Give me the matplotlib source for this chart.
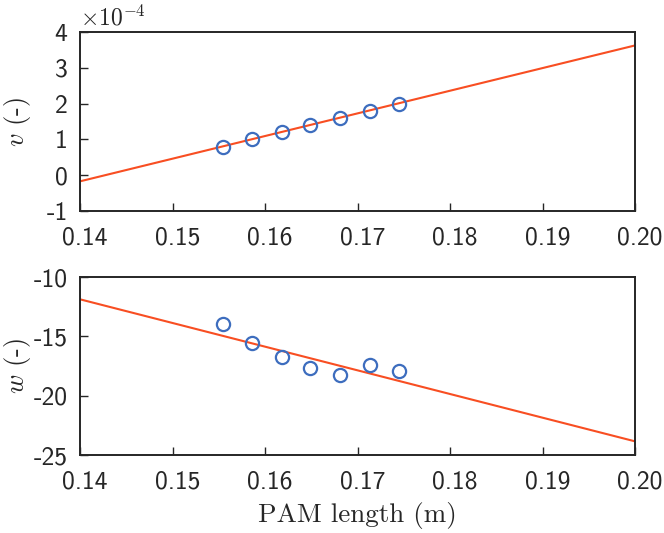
import matplotlib
matplotlib.use("Agg")
import matplotlib.pyplot as plt
import matplotlib.transforms as mtransforms
from matplotlib.ticker import FuncFormatter

# PAM length (m) of each measured point
pam_length = [0.1555, 0.1586, 0.1618, 0.1649, 0.1681, 0.1713, 0.1745]

# measured coefficients
v_meas = [0.80e-4, 1.00e-4, 1.20e-4, 1.40e-4, 1.60e-4, 1.80e-4, 2.00e-4]
w_meas = [-13.92, -15.58, -16.72, -17.65, -18.27, -17.45, -17.96]

# linear fits (end points over the plotted range)
fit_x = [0.14, 0.20]
v_fit = [-0.17e-4, 3.625e-4]
w_fit = [-11.88, -23.85]

x_ticks = [0.14, 0.15, 0.16, 0.17, 0.18, 0.19, 0.20]
v_ticks = [-1e-4, 0, 1e-4, 2e-4, 3e-4, 4e-4]
w_ticks = [-25, -20, -15, -10]

plt.rcParams["axes.unicode_minus"] = False
plt.rcParams["mathtext.fontset"] = "cm"

axis_col = "#262626"
line_col = "#F84E22"
mark_col = "#3D6DBE"
tick_font = "cmss10"

fig = plt.figure(figsize=(6.64, 5.33), dpi=100)
ax1 = fig.add_axes([0.1205, 0.604, 0.836, 0.336])
ax2 = fig.add_axes([0.1205, 0.1463, 0.836, 0.334])

# matlab puts the x tick labels a little to the right
shift = mtransforms.ScaledTranslation(5 / 100, 0, fig.dpi_scale_trans)

for ax in (ax1, ax2):
    for s in ax.spines.values():
        s.set_color(axis_col)
        s.set_linewidth(1.4)
    ax.tick_params(direction="in", length=6, width=1.0, colors=axis_col,
                   labelsize=18.5)
    ax.tick_params(axis="x", pad=11)
    ax.tick_params(axis="y", pad=9)
    ax.set_xlim(0.14, 0.20)
    ax.set_xticks(x_ticks)
    ax.xaxis.set_major_formatter(FuncFormatter(lambda x, p: "%.2f" % x))

# --- v ---
ax1.plot(fit_x, v_fit, color=line_col, lw=1.5, zorder=2)
ax1.plot(pam_length, v_meas, "o", mfc="none", mec=mark_col, ms=9.5, mew=1.6, zorder=3)
ax1.set_ylim(-1e-4, 4e-4)
ax1.set_yticks(v_ticks)
ax1.yaxis.set_major_formatter(FuncFormatter(lambda y, p: "%d" % round(y / 1e-4)))
ax1.text(0.0, 1.01, r"$\times\mathsf{10^{-4}}$", transform=ax1.transAxes,
         fontsize=17, color=axis_col, ha="left", va="bottom")
ax1.set_ylabel(r"$v$ (-)", fontsize=19, fontfamily="cmr10", color=axis_col, va="center")
ax1.yaxis.set_label_coords(-0.112, 0.5)

# --- w ---
ax2.plot(fit_x, w_fit, color=line_col, lw=1.5, zorder=2)
ax2.plot(pam_length, w_meas, "o", mfc="none", mec=mark_col, ms=9.5, mew=1.6, zorder=3)
ax2.set_ylim(-25, -10)
ax2.set_yticks(w_ticks)
ax2.yaxis.set_major_formatter(FuncFormatter(lambda y, p: "%d" % y))
ax2.set_ylabel(r"$w$ (-)", fontsize=19, fontfamily="cmr10", color=axis_col, va="center")
ax2.yaxis.set_label_coords(-0.112, 0.5)
ax2.set_xlabel("PAM length (m)", fontsize=19.5, fontfamily="cmr10", color=axis_col, va="center")
ax2.xaxis.set_label_coords(0.5, -0.337)

for ax in (ax1, ax2):
    for lab in ax.get_xticklabels():
        lab.set_fontfamily(tick_font)
        lab.set_transform(lab.get_transform() + shift)
    for lab in ax.get_yticklabels():
        lab.set_fontfamily(tick_font)

fig.savefig("out.png", dpi=100)
